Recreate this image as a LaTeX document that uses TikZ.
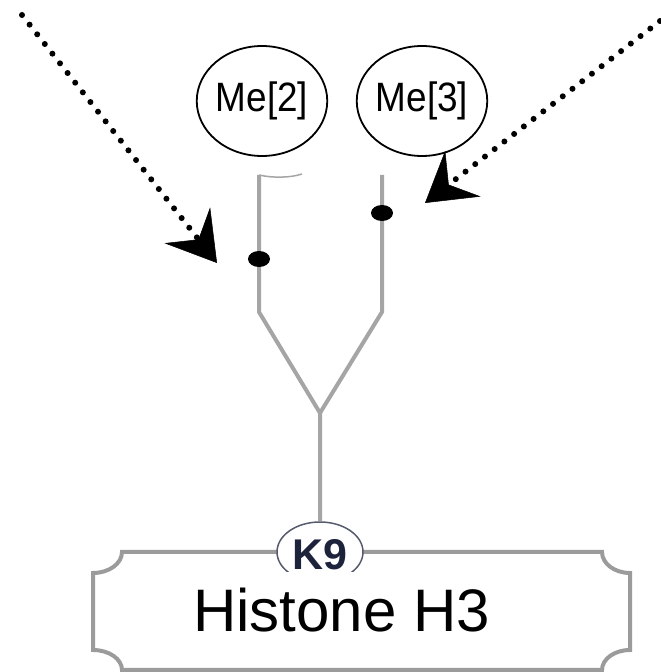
\documentclass[tikz,border=0pt]{standalone}
\usepackage{fontspec}
\setmainfont{Liberation Sans}
\newfontfamily\narrowsans[FakeStretch=0.9]{Liberation Sans}
\usepackage{tikz}
\usetikzlibrary{arrows.meta, shapes.geometric}
\definecolor{bondgray}{RGB}{165, 165, 165}
\definecolor{framegray}{RGB}{155, 155, 155}
\definecolor{sitenavy}{RGB}{30, 35, 60}

\tikzset{
  mebubble/.style={ellipse, draw=black, line width=1.8pt, fill=white, minimum width=128pt, minimum height=110pt, inner sep=0pt, font=\narrowsans\fontsize{41}{46}\selectfont},
  bond/.style={draw=bondgray, line width=4pt},
  sitedot/.style={ellipse, fill=black, minimum width=22pt, minimum height=16pt, inner sep=0pt},
  modarrow/.style={line width=6pt, line cap=round, dash pattern=on 0pt off 12.3pt, -{Stealth[length=48pt, width=58pt, inset=18pt, line width=0.5pt]}}
}

\begin{document}
\begin{tikzpicture}[x=1pt, y=1pt]
  \useasboundingbox (0,0) rectangle (661,672);

  % Histone frame
  \draw[framegray, line width=4pt] (122,120) -- (602,120)
    arc[start angle=180, end angle=270, x radius=28, y radius=21] -- (630,22)
    arc[start angle=90, end angle=180, x radius=28, y radius=20] -- (122,2)
    arc[start angle=0, end angle=90, x radius=29, y radius=20] -- (93,99)
    arc[start angle=-90, end angle=0, x radius=29, y radius=21] -- cycle;

  % K9 site
  \node[ellipse, draw=sitenavy!75, line width=1.5pt, fill=white, minimum width=86pt, minimum height=60pt, inner sep=0pt] (k9) at (320,120) {};
  \node[anchor=base, inner sep=0pt, text=sitenavy, font=\bfseries\fontsize{43}{48}\selectfont] (k9label) at (320,102) {K9};

  % Label
  \node[fill=white, minimum width=401pt, minimum height=70pt, inner sep=0pt] (labelbg) at (357.5,65) {};
  \node[anchor=base west, inner sep=0pt, font=\fontsize{60}{66}\selectfont] (histone) at (193,40) {Histone H3};

  % Methyl groups
  \node[mebubble] (me2) at (262,571) {Me[2]};
  \node[mebubble] (me3) at (422,571) {Me[3]};

  % Bonds
  \coordinate (topL) at (259,497);
  \coordinate (topR) at (382,497);
  \coordinate (bendL) at (259,360);
  \coordinate (bendR) at (382,360);
  \coordinate (fork) at (320,259);
  \draw[bond] (topL) -- (bendL) -- (fork) -- (k9.north);
  \draw[bond] (topR) -- (bendR) -- (fork);
  \draw[bondgray, line width=1.5pt] (topL) .. controls (272,494) and (290,494) .. (302,498);

  \node[sitedot] (dotL) at (259,413) {};
  \node[sitedot] (dotR) at (382,459) {};

  % Incoming modifications
  \coordinate (fromL) at (22,657);
  \coordinate (tipL) at (217,409);
  \coordinate (fromR) at (660,651);
  \coordinate (tipR) at (425,469);
  \draw[modarrow] (fromL) -- (tipL);
  \draw[modarrow] (fromR) -- (tipR);
\end{tikzpicture}
\end{document}
